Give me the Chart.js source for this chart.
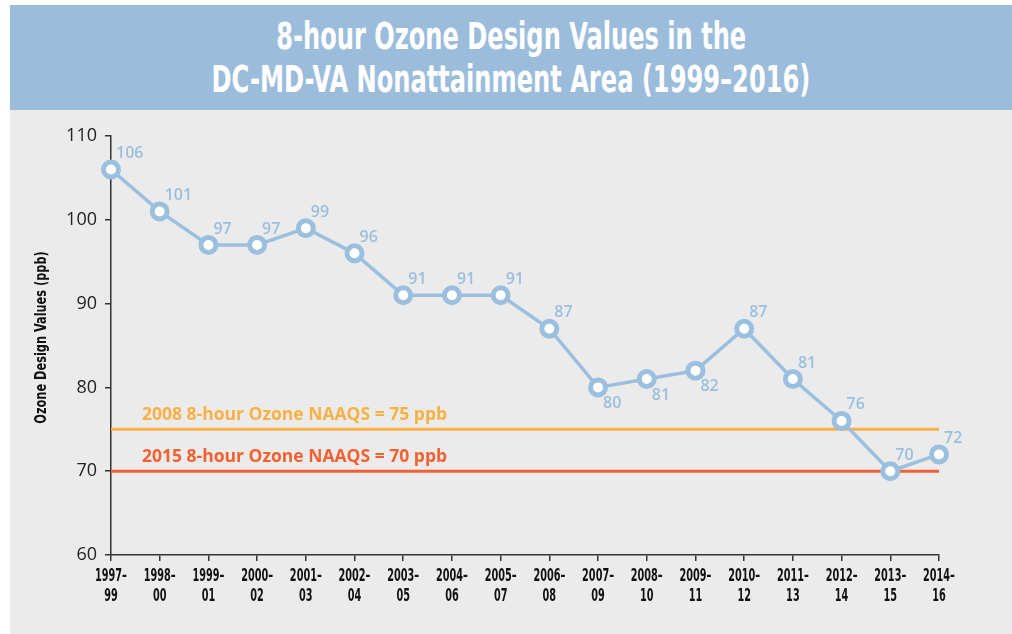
<!DOCTYPE html>
<html>
<head>
<meta charset="utf-8">
<title>8-hour Ozone Design Values</title>
<script src="https://cdn.jsdelivr.net/npm/chart.js@4.4.1/dist/chart.umd.min.js"></script>
<style>
  body { margin: 0; background: #fff; }
  #banner {
    position: absolute; left: 10px; top: 5px; width: 1002px; height: 105px;
    background: #9bbddb; color: #fff; text-align: center;
    font-family: "DejaVu Sans Condensed", "DejaVu Sans", sans-serif;
    font-weight: bold; font-size: 37px; line-height: 43px;
    display: flex; flex-direction: column; justify-content: center; align-items: center;
  }
  #banner div { transform: scaleX(0.725); white-space: nowrap; }
  #wrap { position: absolute; left: 10px; top: 110px; width: 1002px; height: 524px; background: #ebebeb; }
</style>
</head>
<body>
<div id="banner">
  <div>8-hour Ozone Design Values in the</div>
  <div>DC-MD-VA Nonattainment Area (1999–2016)</div>
</div>
<div id="wrap"><canvas id="ozoneChart"></canvas></div>
<script>
// Datos del gráfico
const periods = ["1997–99", "1998–00", "1999–01", "2000–02", "2001–03", "2002–04", "2003–05", "2004–06", "2005–07",
                 "2006–08", "2007–09", "2008–10", "2009–11", "2010–12", "2011–13", "2012–14", "2013–15", "2014–16"];
const designValues = [106, 101, 97, 97, 99, 96, 91, 91, 91, 87, 80, 81, 82, 87, 81, 76, 70, 72];
const yTicks = [60, 70, 80, 90, 100, 110];
const standardValues = [75, 70];
const standardLabels = ["2008 8-hour Ozone NAAQS = 75 ppb", "2015 8-hour Ozone NAAQS = 70 ppb"];
const yTitle = "Ozone Design Values (ppb)";

const condFont = "'DejaVu Sans Condensed', 'DejaVu Sans', sans-serif";
const blue = "#9bbfde";
const standardColors = ["#f9b044", "#f2612f"];
const labelsBelow = [10, 11, 12]; // etiquetas que van debajo del punto

// Texto estrecho (la fuente condensada disponible es más ancha que la original)
function narrowText(ctx, text, x, y, sx, angle) {
  ctx.save();
  ctx.translate(x, y);
  if (angle) ctx.rotate(angle);
  ctx.scale(sx, 1);
  ctx.fillText(text, 0, 0);
  ctx.restore();
}

// Líneas de las normas (debajo de la serie)
const standardsPlugin = {
  id: "standards",
  beforeDatasetsDraw(chart) {
    const { ctx, chartArea, scales: { y } } = chart;
    ctx.save();
    standardValues.forEach((v, i) => {
      const py = y.getPixelForValue(v);
      ctx.strokeStyle = standardColors[i];
      ctx.lineWidth = 3;
      ctx.beginPath();
      ctx.moveTo(chartArea.left, py);
      ctx.lineTo(chartArea.right, py);
      ctx.stroke();
      ctx.fillStyle = standardColors[i];
      ctx.font = "bold 17.5px 'Open Sans'";
      ctx.textBaseline = "middle";
      ctx.textAlign = "left";
      ctx.fillText(standardLabels[i], chartArea.left + 31, py - 14);
    });
    ctx.restore();
  }
};

// Etiquetas de valores en cada punto
const valueLabelsPlugin = {
  id: "valueLabels",
  afterDatasetsDraw(chart) {
    const { ctx } = chart;
    const meta = chart.getDatasetMeta(0);
    ctx.save();
    ctx.fillStyle = blue;
    ctx.font = "600 16px 'Open Sans'";
    ctx.textBaseline = "middle";
    ctx.textAlign = "left";
    meta.data.forEach((pt, i) => {
      const dy = labelsBelow.includes(i) ? 16 : -16;
      ctx.fillText(designValues[i], pt.x + 5, pt.y + dy);
    });
    ctx.restore();
  }
};

// Etiquetas del eje X y título del eje Y en letra condensada
const axisTextPlugin = {
  id: "axisText",
  afterDraw(chart) {
    const { ctx, chartArea, scales: { x } } = chart;
    ctx.save();
    ctx.fillStyle = "#111";
    ctx.textAlign = "center";
    ctx.textBaseline = "middle";
    ctx.font = "bold 18px " + condFont;
    chart.data.labels.forEach((lines, i) => {
      const px = x.getPixelForTick(i);
      lines.forEach((t, j) => narrowText(ctx, t, px, x.top + 21 + j * 20, 0.6));
    });
    ctx.font = "bold 15px " + condFont;
    narrowText(ctx, yTitle, 32, (chartArea.top + chartArea.bottom) / 2 - 8, 0.84, -Math.PI / 2);
    ctx.restore();
  }
};

new Chart(document.getElementById("ozoneChart"), {
  type: "line",
  data: {
    labels: periods.map(p => [p.slice(0, 5), p.slice(5)]),
    datasets: [{
      data: designValues,
      borderColor: blue,
      borderWidth: 3.5,
      pointRadius: 7.5,
      pointBorderWidth: 5,
      pointBackgroundColor: "#fff",
      pointBorderColor: blue,
      tension: 0
    }]
  },
  options: {
    responsive: true,
    maintainAspectRatio: false,
    animation: false,
    layout: { padding: { left: 18, top: 26, right: 73, bottom: 0 } },
    plugins: { legend: { display: false }, tooltip: { enabled: false } },
    scales: {
      x: {
        offset: false,
        grid: { display: true, drawOnChartArea: false, tickLength: 6, color: "#333", lineWidth: 1.5 },
        border: { color: "#333", width: 1.5 },
        ticks: { display: false, autoSkip: false },
        afterFit(s) { s.height = 79; }
      },
      y: {
        min: yTicks[0],
        max: yTicks[yTicks.length - 1],
        grid: { display: true, drawOnChartArea: false, tickLength: 6, color: "#333", lineWidth: 1.5 },
        border: { color: "#333", width: 1.5 },
        ticks: { stepSize: 10, font: { family: "'Open Sans'", size: 18 }, color: "#222", padding: 8 },
        afterFit(s) { s.width = 83; }
      }
    }
  },
  plugins: [standardsPlugin, valueLabelsPlugin, axisTextPlugin]
});
</script>
</body>
</html>
